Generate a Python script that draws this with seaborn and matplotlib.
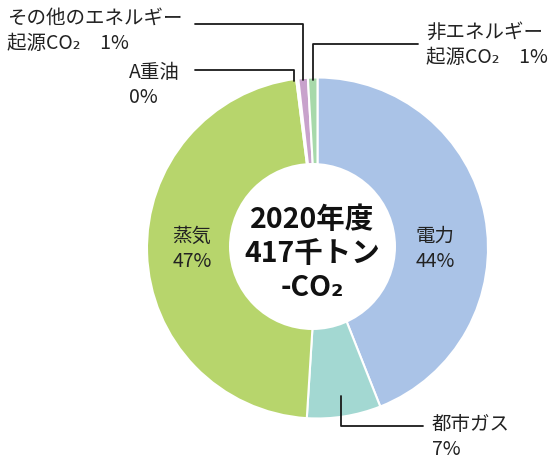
import numpy as np
import matplotlib
matplotlib.use("Agg")
import matplotlib.pyplot as plt
import seaborn as sns
from matplotlib.patches import Circle

sns.set_theme(style="white")
plt.rcParams['font.family'] = ['Noto Sans CJK JP', 'DejaVu Sans']

categories = ["電力", "都市ガス", "蒸気", "A重油", "その他のエネルギー起源CO₂", "非エネルギー起源CO₂"]
values = [44.0, 7.0, 47.0, 0.2, 0.9, 0.9]
pct_labels = ["44%", "7%", "47%", "0%", "1%", "1%"]
colors = ["#AAC3E7", "#A3D8D2", "#B7D56C", "#B7D56C", "#C8A2CC", "#A7D9AA"]
center_text = "2020年度\n417千トン\n-CO₂"

W, H = 555, 461
fig = plt.figure(figsize=(W / 100, H / 100), dpi=100)
ax = fig.add_axes([0, 0, 1, 1])

def P(x, y):
    return (x, H - y)

cx, cy = P(317.5, 248)
R = 170.5
wedges, _ = ax.pie(values, colors=colors, startangle=90, counterclock=False,
                   radius=R, center=(cx, cy), frame=True,
                   wedgeprops=dict(edgecolor='white', linewidth=1.5))
ax.set_xlim(0, W)
ax.set_ylim(0, H)
ax.set_aspect('equal')
ax.axis('off')

# white hole
hx, hy = P(312.5, 246.5)
ax.add_patch(Circle((hx, hy), 83.5, facecolor='white', edgecolor='none', zorder=3))
ax.text(hx, P(0, 254)[1], center_text, ha='center', va='center', fontsize=20.5,
        fontweight='bold', color='#111111', linespacing=1.27, zorder=4)

txt_color = '#222222'
fs = 14
ls = 1.3

def mid_point(w, r):
    a = np.deg2rad((w.theta1 + w.theta2) / 2)
    return cx + r * np.cos(a), cy + r * np.sin(a)

# inside labels
for i, (lx, ly) in [(0, P(435, 249)), (2, P(192, 249))]:
    ax.text(lx, ly, f"{categories[i]}\n{pct_labels[i]}", ha='center', va='center',
            fontsize=fs, color=txt_color, linespacing=ls, zorder=5)

lw = 1.3
lc = '#1a1a1a'

# 都市ガス
x0, y0 = mid_point(wedges[1], 150)
ly = P(0, 426)[1]
ax.plot([x0, x0, 423], [y0, ly, ly], color=lc, lw=lw, zorder=5)
ax.text(432, P(0, 437)[1], f"{categories[1]}\n{pct_labels[1]}", ha='left', va='center',
        fontsize=fs, color=txt_color, linespacing=ls, zorder=5)

# A重油
x0, y0 = mid_point(wedges[3], R - 2)
x0 = x0 - 3
ly = P(0, 70)[1]
ax.plot([x0, x0, 195], [y0, ly, ly], color=lc, lw=lw, zorder=5)
ax.text(129, P(0, 85)[1], f"{categories[3]}\n{pct_labels[3]}", ha='left', va='center',
        fontsize=fs, color=txt_color, linespacing=ls, zorder=5)

# その他
x0, y0 = mid_point(wedges[4], R - 2)
ly = P(0, 24)[1]
ax.plot([x0, x0, 195], [y0, ly, ly], color=lc, lw=lw, zorder=5)
ax.text(7, P(0, 31)[1], "その他のエネルギー\n起源CO₂　1%", ha='left', va='center',
        fontsize=fs, color=txt_color, linespacing=ls, zorder=5)

# 非エネルギー
x0, y0 = mid_point(wedges[5], R - 2)
ly = P(0, 44)[1]
ax.plot([x0, x0, 418], [y0, ly, ly], color=lc, lw=lw, zorder=5)
ax.text(426, P(0, 45)[1], "非エネルギー\n起源CO₂　1%", ha='left', va='center',
        fontsize=fs, color=txt_color, linespacing=ls, zorder=5)

fig.savefig("out.png", dpi=100)
